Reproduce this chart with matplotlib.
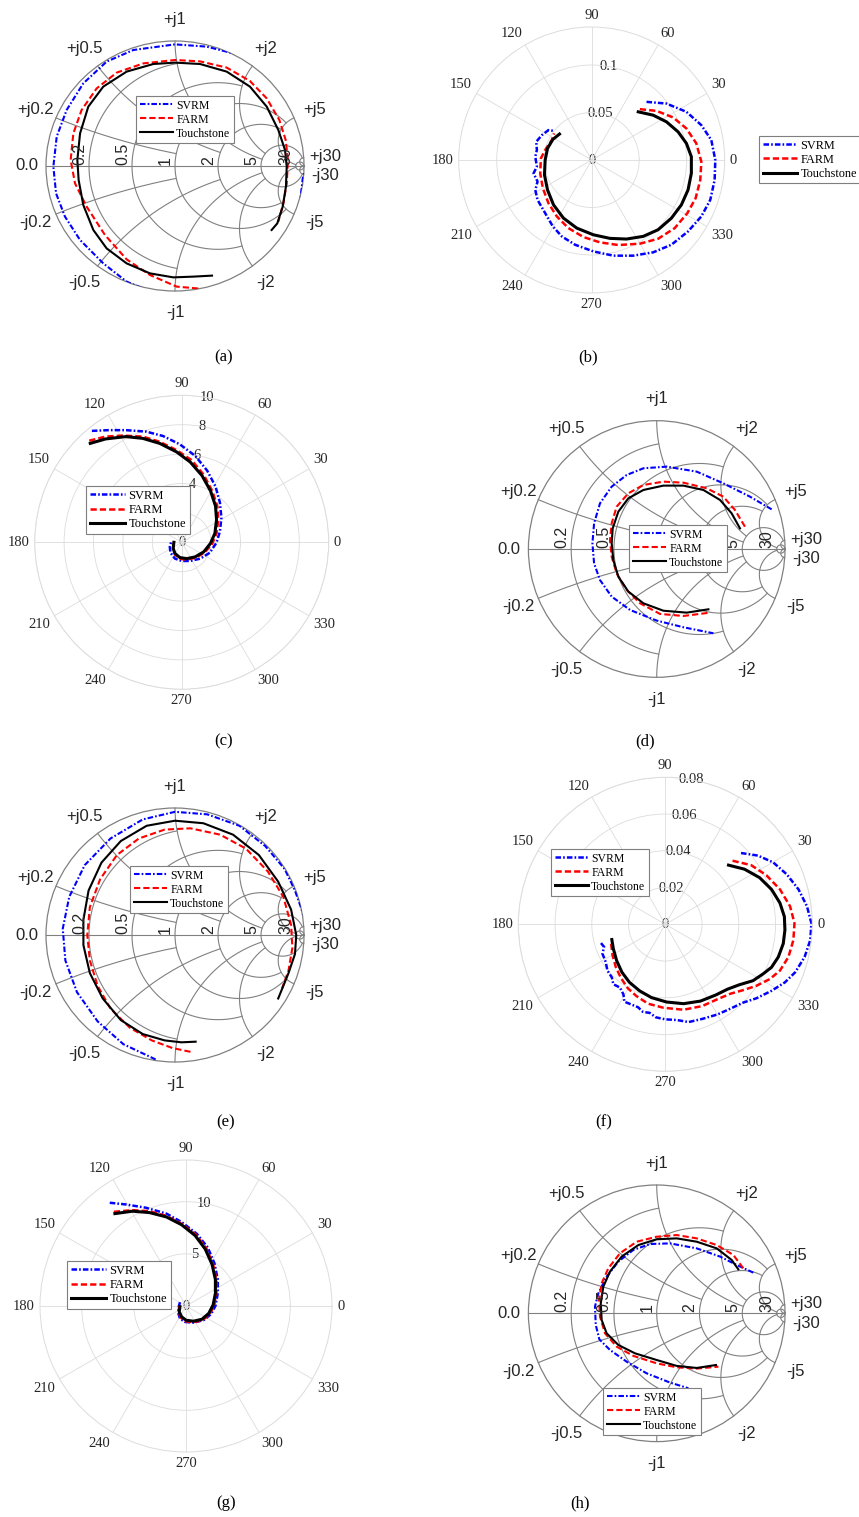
import numpy as np
import matplotlib.pyplot as plt
from matplotlib.patches import Circle

plt.rcParams['font.family'] = ['Liberation Serif', 'DejaVu Serif']
plt.rcParams['lines.scale_dashes'] = False

W, H = 859, 1517

series = ['SVRM', 'FARM', 'Touchstone']
colors = ['#0000ff', '#ff0000', '#000000']
dashes = [(0, (4, 1.5, 1.2, 1.5)), (0, (4.5, 2.2)), '-']

# Smith chart data, reflection coefficient (re, im)
a_svrm = [(-0.18, -1.01), (-0.375, -0.925), (-0.556, -0.779), (-0.736, -0.592), (-0.853, -0.405),
          (-0.922, -0.219), (-0.943, -0.005), (-0.917, 0.235), (-0.840, 0.448), (-0.711, 0.661),
          (-0.530, 0.835), (-0.323, 0.928), (0.0, 0.973), (0.245, 0.955), (0.452, 0.901),
          (0.60, 0.85), (0.85, 0.62), (1.05, 0.25), (1.02, 0.02), (0.99, -0.10), (0.975, -0.24),
          (0.98, -0.40), (0.90, -0.60)]
a_farm = [(0.18, -0.98), (0.013, -0.965), (-0.194, -0.872), (-0.375, -0.747), (-0.543, -0.552),
          (-0.685, -0.325), (-0.775, -0.139), (-0.809, 0.048), (-0.788, 0.261), (-0.724, 0.448),
          (-0.607, 0.621), (-0.452, 0.747), (-0.245, 0.821), (0.0, 0.848), (0.194, 0.837),
          (0.401, 0.787), (0.581, 0.680), (0.711, 0.541), (0.809, 0.368), (0.858, 0.208),
          (0.876, 0.048), (0.866, -0.139), (0.840, -0.299), (0.801, -0.445)]
a_touch = [(0.287, -0.877), (0.142, -0.885), (-0.013, -0.891), (-0.194, -0.859), (-0.375, -0.779),
           (-0.530, -0.659), (-0.633, -0.512), (-0.711, -0.312), (-0.747, -0.112), (-0.757, 0.048),
           (-0.736, 0.261), (-0.672, 0.475), (-0.556, 0.635), (-0.375, 0.755), (-0.168, 0.816),
           (0.0, 0.827), (0.194, 0.816), (0.401, 0.755), (0.581, 0.635), (0.711, 0.475),
           (0.801, 0.288), (0.853, 0.128), (0.866, -0.005), (0.860, -0.165), (0.835, -0.325),
           (0.793, -0.459), (0.749, -0.512)]

d_svrm = [(0.896, 0.309), (0.727, 0.408), (0.519, 0.512), (0.312, 0.603), (0.078, 0.642),
          (-0.104, 0.629), (-0.234, 0.577), (-0.351, 0.486), (-0.442, 0.356), (-0.488, 0.200),
          (-0.501, 0.044), (-0.488, -0.112), (-0.442, -0.242), (-0.351, -0.371), (-0.208, -0.475),
          (0.0, -0.558), (0.208, -0.610), (0.442, -0.657)]
d_farm = [(0.688, 0.174), (0.610, 0.304), (0.519, 0.408), (0.390, 0.473), (0.208, 0.517),
          (0.052, 0.525), (-0.104, 0.499), (-0.221, 0.434), (-0.312, 0.330), (-0.351, 0.200),
          (-0.364, 0.070), (-0.351, -0.060), (-0.312, -0.190), (-0.234, -0.319), (-0.130, -0.423),
          (0.026, -0.506), (0.208, -0.522), (0.416, -0.496)]
d_touch = [(0.649, 0.161), (0.584, 0.278), (0.494, 0.382), (0.364, 0.460), (0.208, 0.494),
           (0.052, 0.494), (-0.104, 0.460), (-0.221, 0.395), (-0.299, 0.291), (-0.343, 0.161),
           (-0.351, 0.044), (-0.338, -0.086), (-0.299, -0.216), (-0.221, -0.332), (-0.104, -0.423),
           (0.052, -0.481), (0.234, -0.496), (0.403, -0.470)]

e_svrm = [(-0.15, -0.98), (-0.40, -0.86), (-0.60, -0.68), (-0.76, -0.45), (-0.85, -0.20),
          (-0.87, 0.05), (-0.82, 0.30), (-0.70, 0.55), (-0.50, 0.76), (-0.25, 0.91), (0.0, 0.97),
          (0.25, 0.95), (0.50, 0.86), (0.70, 0.70), (0.85, 0.52), (0.93, 0.35), (1.0, 0.15),
          (1.05, 0.0)]
e_farm = [(0.12, -0.92), (-0.02, -0.89), (-0.18, -0.83), (-0.35, -0.73), (-0.50, -0.58),
          (-0.60, -0.40), (-0.66, -0.20), (-0.68, 0.0), (-0.66, 0.22), (-0.58, 0.44), (-0.45, 0.63),
          (-0.28, 0.76), (-0.08, 0.83), (0.12, 0.84), (0.35, 0.79), (0.55, 0.68), (0.72, 0.50),
          (0.84, 0.30), (0.90, 0.08), (0.91, -0.10), (0.88, -0.28), (0.83, -0.42)]
e_touch = [(0.16, -0.84), (0.05, -0.845), (-0.08, -0.83), (-0.25, -0.78), (-0.42, -0.67),
           (-0.56, -0.50), (-0.66, -0.30), (-0.71, -0.08), (-0.71, 0.12), (-0.67, 0.35),
           (-0.57, 0.57), (-0.42, 0.74), (-0.22, 0.86), (0.0, 0.90), (0.22, 0.88), (0.45, 0.79),
           (0.65, 0.63), (0.80, 0.42), (0.90, 0.20), (0.94, 0.0), (0.93, -0.15), (0.88, -0.30),
           (0.80, -0.50)]

h_svrm = [(0.753, 0.317), (0.623, 0.377), (0.494, 0.442), (0.312, 0.506), (0.104, 0.545),
          (-0.052, 0.540), (-0.182, 0.494), (-0.299, 0.403), (-0.390, 0.286), (-0.455, 0.156),
          (-0.481, 0.052), (-0.475, -0.091), (-0.447, -0.203), (-0.364, -0.286), (-0.234, -0.377),
          (-0.078, -0.468), (0.104, -0.540), (0.247, -0.584)]
h_farm = [(0.675, 0.351), (0.597, 0.455), (0.468, 0.532), (0.312, 0.584), (0.156, 0.610),
          (0.0, 0.597), (-0.156, 0.558), (-0.286, 0.468), (-0.377, 0.351), (-0.429, 0.234),
          (-0.449, 0.104), (-0.442, -0.026), (-0.403, -0.156), (-0.312, -0.260), (-0.182, -0.332),
          (0.0, -0.390), (0.156, -0.421), (0.312, -0.431), (0.481, -0.416)]
h_touch = [(0.636, 0.343), (0.584, 0.416), (0.468, 0.506), (0.312, 0.558), (0.156, 0.584),
           (0.0, 0.577), (-0.143, 0.532), (-0.273, 0.442), (-0.364, 0.325), (-0.416, 0.208),
           (-0.436, 0.078), (-0.429, -0.052), (-0.390, -0.156), (-0.299, -0.247), (-0.169, -0.312),
           (0.0, -0.364), (0.156, -0.410), (0.312, -0.426), (0.462, -0.403)]

# polar data (re, im)
b_svrm = [(0.0577, 0.0612), (0.0787, 0.0594), (0.0997, 0.0507), (0.1154, 0.0367), (0.1259, 0.0210),
          (0.1301, 0.0), (0.1294, -0.0210), (0.1248, -0.0420), (0.1154, -0.0594), (0.1014, -0.0752),
          (0.0839, -0.0892), (0.0647, -0.0972), (0.0437, -0.1007), (0.0227, -0.1007), (0.0017, -0.0962),
          (-0.0175, -0.0892), (-0.0315, -0.0804), (-0.0409, -0.0699), (-0.0490, -0.0559),
          (-0.0570, -0.0420), (-0.0594, -0.0315), (-0.0570, -0.0227), (-0.0612, -0.0140),
          (-0.0577, -0.0070), (-0.0594, 0.0035), (-0.0577, 0.0105), (-0.0584, 0.0192),
          (-0.0524, 0.0262), (-0.0455, 0.0315), (-0.0409, 0.0308)]
b_farm = [(0.0507, 0.0535), (0.0682, 0.0517), (0.0857, 0.0448), (0.0997, 0.0332), (0.1101, 0.0175),
          (0.1154, -0.0017), (0.1143, -0.0210), (0.1094, -0.0402), (0.1007, -0.0559), (0.0874, -0.0717),
          (0.0699, -0.0829), (0.0507, -0.0881), (0.0280, -0.0895), (0.0087, -0.0867), (-0.0087, -0.0811),
          (-0.0245, -0.0717), (-0.0367, -0.0594), (-0.0455, -0.0455), (-0.0514, -0.0297),
          (-0.0542, -0.0140), (-0.0535, 0.0017), (-0.0490, 0.0105), (-0.0420, 0.0210), (-0.0395, 0.0280)]
b_touch = [(0.0490, 0.0507), (0.0647, 0.0472), (0.0787, 0.0402), (0.0909, 0.0297), (0.0997, 0.0175),
           (0.1049, 0.0035), (0.1049, -0.0140), (0.1014, -0.0315), (0.0944, -0.0472), (0.0839, -0.0612),
           (0.0699, -0.0734), (0.0542, -0.0804), (0.0367, -0.0832), (0.0192, -0.0825), (0.0017, -0.0787),
           (-0.0157, -0.0717), (-0.0297, -0.0612), (-0.0402, -0.0472), (-0.0465, -0.0315),
           (-0.0497, -0.0157), (-0.0490, 0.0), (-0.0465, 0.0122), (-0.0409, 0.0217), (-0.0339, 0.0273)]

c_svrm = [(-6.11, 7.58), (-4.95, 7.63), (-3.80, 7.63), (-2.42, 7.53), (-1.27, 7.23), (-0.12, 6.66),
          (0.92, 5.88), (1.73, 4.88), (2.30, 3.80), (2.60, 2.70), (2.70, 1.66), (2.60, 0.74),
          (2.37, -0.02), (1.91, -0.71), (1.27, -1.11), (0.58, -1.27), (0.0, -1.27), (-0.46, -1.11),
          (-0.76, -0.71), (-0.81, -0.30), (-0.69, 0.12)]
c_farm = [(-6.29, 6.91), (-5.18, 7.19), (-4.03, 7.26), (-2.65, 7.19), (-1.50, 6.84), (-0.35, 6.27),
          (0.69, 5.58), (1.50, 4.59), (2.07, 3.50), (2.42, 2.47), (2.49, 1.54), (2.37, 0.62),
          (2.07, -0.12), (1.54, -0.71), (0.92, -1.06), (0.30, -1.18), (-0.16, -1.11), (-0.46, -0.83),
          (-0.58, -0.41), (-0.55, -0.02)]
c_touch = [(-6.22, 6.73), (-5.18, 7.03), (-3.80, 7.19), (-2.65, 7.07), (-1.50, 6.73), (-0.35, 6.15),
           (0.58, 5.46), (1.38, 4.54), (1.96, 3.50), (2.30, 2.47), (2.37, 1.54), (2.26, 0.62),
           (1.96, -0.07), (1.50, -0.65), (0.92, -0.99), (0.35, -1.11), (-0.12, -1.04), (-0.46, -0.76),
           (-0.58, -0.41), (-0.53, 0.0)]

f_svrm = [(41.2, 38.8), (50.4, 37.4), (58.7, 33.7), (66.1, 27.2), (72.5, 19.0), (77.1, 9.8),
          (79.5, 0.6), (78.9, -8.6), (75.8, -17.8), (70.7, -26.1), (65.1, -31.6), (57.8, -36.2),
          (49.5, -40.3), (42.1, -42.7), (35.7, -45.8), (28.3, -49.1), (20.1, -51.5), (12.7, -53.2),
          (6.3, -52.1), (-0.2, -51.7), (-5.2, -50.6), (-8.5, -48.2), (-12.1, -47.7), (-14.9, -45.1),
          (-18.6, -43.6), (-22.3, -42.1), (-22.8, -38.1), (-24.7, -34.4), (-28.3, -32.6),
          (-29.1, -28.9), (-31.5, -25.2), (-32.4, -20.6), (-34.2, -16.0), (-33.3, -12.3), (-35.1, -10.1)]
f_farm = [(36.6, 34.6), (46.7, 32.2), (55.0, 26.7), (62.4, 19.0), (67.9, 9.8), (70.3, 0.6),
          (69.7, -8.6), (67.0, -17.8), (62.4, -25.2), (56.9, -29.8), (49.5, -33.5), (42.1, -35.9),
          (35.7, -37.7), (28.3, -40.8), (20.1, -44.5), (9.9, -46.5), (-1.1, -45.4), (-9.4, -43.2),
          (-15.8, -39.0), (-20.4, -34.8), (-24.1, -29.3), (-26.9, -23.4), (-28.7, -16.9), (-29.6, -9.6)]
f_touch = [(34.4, 32.2), (43.1, 30.0), (51.3, 25.4), (57.8, 19.0), (62.4, 11.6), (64.8, 4.2),
           (65.1, -3.1), (64.2, -10.5), (61.5, -17.8), (57.8, -23.4), (53.2, -27.0), (47.7, -30.7),
           (40.3, -32.9), (33.9, -35.3), (27.4, -38.5), (19.1, -41.8), (9.9, -43.2), (0.7, -42.3),
           (-7.5, -39.9), (-14.0, -36.2), (-19.5, -31.6), (-23.6, -26.1), (-26.5, -19.7),
           (-28.3, -13.2), (-29.1, -8.3)]

g_svrm = [(-7.31, 9.90), (-5.78, 9.74), (-3.83, 9.42), (-1.88, 8.86), (-0.42, 8.05), (1.04, 6.92),
          (2.08, 5.62), (2.73, 4.09), (3.05, 2.53), (3.05, 1.23), (2.83, 0.03), (2.40, -0.78),
          (1.69, -1.36), (0.71, -1.59), (-0.10, -1.53), (-0.58, -1.20), (-0.75, -0.65), (-0.68, 0.0),
          (-0.58, 0.36)]
g_farm = [(-6.92, 9.03), (-5.13, 9.19), (-3.51, 9.09), (-1.88, 8.64), (-0.42, 7.89), (0.97, 6.82),
          (1.95, 5.52), (2.60, 3.99), (2.92, 2.53), (2.92, 1.23), (2.70, 0.03), (2.27, -0.78),
          (1.59, -1.36), (0.71, -1.56), (-0.06, -1.46), (-0.52, -1.10), (-0.71, -0.55), (-0.65, 0.0)]
g_touch = [(-6.82, 8.86), (-5.13, 9.09), (-3.51, 8.96), (-1.88, 8.54), (-0.42, 7.79), (0.88, 6.75),
           (1.85, 5.45), (2.50, 3.99), (2.82, 2.53), (2.82, 1.23), (2.60, 0.10), (2.18, -0.71),
           (1.53, -1.27), (0.71, -1.46), (0.0, -1.36), (-0.42, -1.04), (-0.65, -0.55), (-0.58, -0.06)]

# Smith grid values (MATLAB style) and where each circle stops
grid_vals = [0.2, 0.5, 1, 2, 5, 30]
grid_ends = [1, 2, 5, 5, 30, np.inf]

fig = plt.figure(figsize=(W / 100, H / 100), dpi=100)

def box(cx, cy, rx, ry):
    return [(cx - rx) / W, 1 - (cy + ry) / H, 2 * rx / W, 2 * ry / H]

def add_legend(ax, lines, x, y, fs):
    leg = ax.legend(lines, series, loc='upper left', bbox_to_anchor=(x / W, 1 - y / H),
                    bbox_transform=fig.transFigure, borderaxespad=0, fontsize=fs,
                    fancybox=False, framealpha=1, edgecolor='#7f7f7f', borderpad=0.3,
                    labelspacing=0.17, handlelength=2.8, handletextpad=0.3)
    leg.get_frame().set_linewidth(0.8)

def smith(cx, cy, rx, ry, data, legpos, fs=8.5, hidden=()):
    L = 1.05
    ax = fig.add_axes(box(cx, cy, rx * L, ry * L))
    ax.set_xlim(-L, L)
    ax.set_ylim(-L, L)
    ax.axis('off')
    gc = '#808080'
    t = np.linspace(1e-3, 2 * np.pi - 1e-3, 3000)
    with np.errstate(all='ignore'):
        for r, lim in zip(grid_vals, grid_ends):
            g = r / (1 + r) + np.exp(1j * t) / (1 + r)
            z = (1 + g) / (1 - g)
            g = np.where(np.abs(z.imag) <= lim * 1.0001, g, np.nan)
            ax.plot(g.real, g.imag, color=gc, lw=0.8)
        for x, lim in zip(grid_vals, grid_ends):
            for s in (1, -1):
                g = 1 + 1j * s / x + np.exp(1j * t) / x
                z = (1 + g) / (1 - g)
                g = np.where((z.real >= -1e-6) & (z.real <= lim * 1.0001), g, np.nan)
                ax.plot(g.real, g.imag, color=gc, lw=0.8)
    ax.plot([-1, 1], [0, 0], color=gc, lw=0.8)
    ax.add_patch(Circle((0, 0), 1, fill=False, ec=gc, lw=0.9))
    sans = 'Liberation Sans'
    for r in grid_vals:
        if r in hidden:
            continue  # covered by the legend in the original
        gx = (r - 1) / (r + 1)
        ax.annotate('%g' % r, (gx, 0), xytext=(-1.5, 1), textcoords='offset points',
                    rotation=90, ha='right', va='bottom', fontsize=11.5, family=sans,
                    color='#262626', annotation_clip=False)
    for x in grid_vals:
        th = np.pi - 2 * np.arctan(x)
        for s in (1, -1):
            ax.text(1.17 * np.cos(th), s * 1.17 * np.sin(th), ('+j%g' if s > 0 else '-j%g') % x,
                    ha='center', va='center', fontsize=12, family=sans, color='#262626')
    ax.text(-1.15, 0, '0.0', ha='center', va='center', fontsize=12, family=sans, color='#262626')
    clip = Circle((0, 0), 1, transform=ax.transData)
    lines = []
    for pts, c, ls in zip(data, colors, dashes):
        p = np.array(pts)
        ln, = ax.plot(p[:, 0], p[:, 1], color=c, ls=ls, lw=1.5)
        ln.set_clip_path(clip)
        lines.append(ln)
    add_legend(ax, lines, legpos[0], legpos[1], fs)
    return ax

def polar(cx, cy, R, rmax, rticks, rlabels, data, legpos, fs=8.5, lws=(1.8, 1.8, 2.2), hidden=()):
    ax = fig.add_axes(box(cx, cy, R, R), projection='polar')
    gc = '#dcdcdc'
    ax.set_ylim(0, rmax)
    ax.set_xticks(np.deg2rad(np.arange(0, 360, 30)))
    ax.set_xticklabels([])
    ax.set_yticks(rticks)
    ax.set_yticklabels([])
    ax.grid(True, color=gc, lw=0.6)
    ax.spines['polar'].set_color(gc)
    ax.spines['polar'].set_linewidth(0.7)
    ax.tick_params(length=0)
    for a in range(0, 360, 30):
        c, s = np.cos(np.deg2rad(a)), np.sin(np.deg2rad(a))
        ha = 'left' if c > 0.01 else ('right' if c < -0.01 else 'center')
        va = 'bottom' if s > 0.01 else ('top' if s < -0.01 else 'center')
        ax.annotate(str(a), (np.deg2rad(a), rmax), xytext=(3.6 * c, 3.6 * s),
                    textcoords='offset points', ha=ha, va=va, fontsize=10.5,
                    color='#262626', annotation_clip=False)
    for r, lab in zip(rticks, rlabels):
        if lab in hidden:
            continue
        ax.text(np.deg2rad(80), r, lab, ha='center', va='center', fontsize=10.5,
                color='#262626', zorder=1)
    lines = []
    for pts, c, ls, lw in zip(data, colors, dashes, lws):
        z = np.array([complex(a, b) for a, b in pts])
        ln, = ax.plot(np.unwrap(np.angle(z)), np.abs(z), color=c, ls=ls, lw=lw, zorder=2)
        lines.append(ln)
    add_legend(ax, lines, legpos[0], legpos[1], fs)
    return ax

smith(175, 166, 129, 125, [a_svrm, a_farm, a_touch], (136, 96))
polar(591.7, 160, 133, 0.14, [0, 0.05, 0.1], ['0', '0.05', '0.1'],
      [b_svrm, b_farm, b_touch], (759, 136), fs=8.8)
polar(181.7, 542.3, 147, 10, [0, 2, 4, 6, 8, 10], ['0', '2', '4', '6', '8', '10'],
      [c_svrm, c_farm, c_touch], (86, 486), fs=9, hidden=('2',))
smith(656.7, 549, 128.3, 128.3, [d_svrm, d_farm, d_touch], (629, 525), hidden=(1, 2))
smith(175, 935, 129, 127, [e_svrm, e_farm, e_touch], (130, 866))
f_scaled = [[(a / 1000, b / 1000) for a, b in s] for s in (f_svrm, f_farm, f_touch)]
polar(665.3, 924.3, 147, 0.08, [0, 0.02, 0.04, 0.06, 0.08], ['0', '0.02', '0.04', '0.06', '0.08'],
      f_scaled, (551, 849), fs=8.5)
polar(186, 1306, 146, 14, [0, 5, 10], ['0', '5', '10'],
      [g_svrm, g_farm, g_touch], (67, 1261), fs=9)
smith(656.7, 1313.3, 128.3, 128.3, [h_svrm, h_farm, h_touch], (603, 1388))

captions = ['(a)', '(b)', '(c)', '(d)', '(e)', '(f)', '(g)', '(h)']
cap_xy = [(224, 357), (588, 357), (224, 741), (645, 741), (226, 1122), (604, 1122),
          (226, 1503), (580, 1503)]
for lab, (x, y) in zip(captions, cap_xy):
    fig.text(x / W, 1 - y / H, lab, ha='center', va='center', fontsize=12)

fig.savefig('out.png', dpi=100)
